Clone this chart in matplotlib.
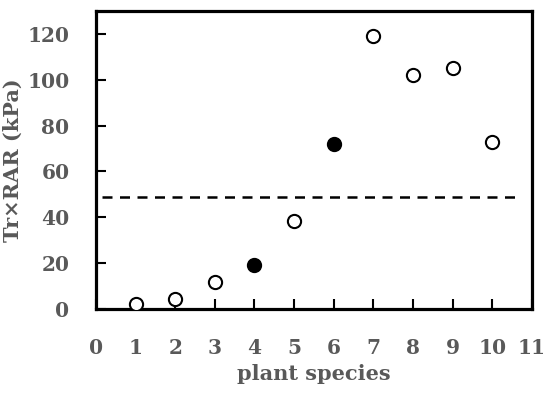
import matplotlib.pyplot as plt

species = [1, 2, 3, 4, 5, 6, 7, 8, 9, 10]
tr_rar = [2, 4.3, 11.8, 19.3, 38.5, 72, 119, 102, 105, 73]
filled = [False, False, False, True, False, True, False, False, False, False]
threshold = 49

grey = '#595959'
plt.rcParams['font.family'] = ['DejaVu Serif']

fig = plt.figure(figsize=(5.5, 3.94), dpi=100)
ax = fig.add_axes([0.1745, 0.216, 0.7925, 0.756])

for x, y, f in zip(species, tr_rar, filled):
    ax.plot(x, y, 'o', ms=9.5, mec='black', mew=1.5,
            mfc='black' if f else 'white', zorder=3)

ax.hlines(threshold, 0.15, 10.7, colors='black', linestyles=(0, (4, 3)), lw=1.8)

ax.set_xlim(0, 11)
ax.set_ylim(0, 130)
ax.set_xticks(range(0, 12))
ax.set_yticks(range(0, 121, 20))
ax.tick_params(direction='in', length=7, width=1.5, labelsize=14.5,
               labelcolor=grey)
ax.tick_params(axis='x', pad=21)
ax.tick_params(axis='y', pad=19)
for lab in ax.get_xticklabels() + ax.get_yticklabels():
    lab.set_fontweight('bold')
for s in ax.spines.values():
    s.set_linewidth(2.3)

ax.set_xlabel('plant species', fontsize=15, fontweight='bold', color=grey, labelpad=4)
ax.set_ylabel('Tr×RAR (kPa)', fontsize=15, fontweight='bold', color=grey, labelpad=3)

fig.savefig('out.png', dpi=100)
